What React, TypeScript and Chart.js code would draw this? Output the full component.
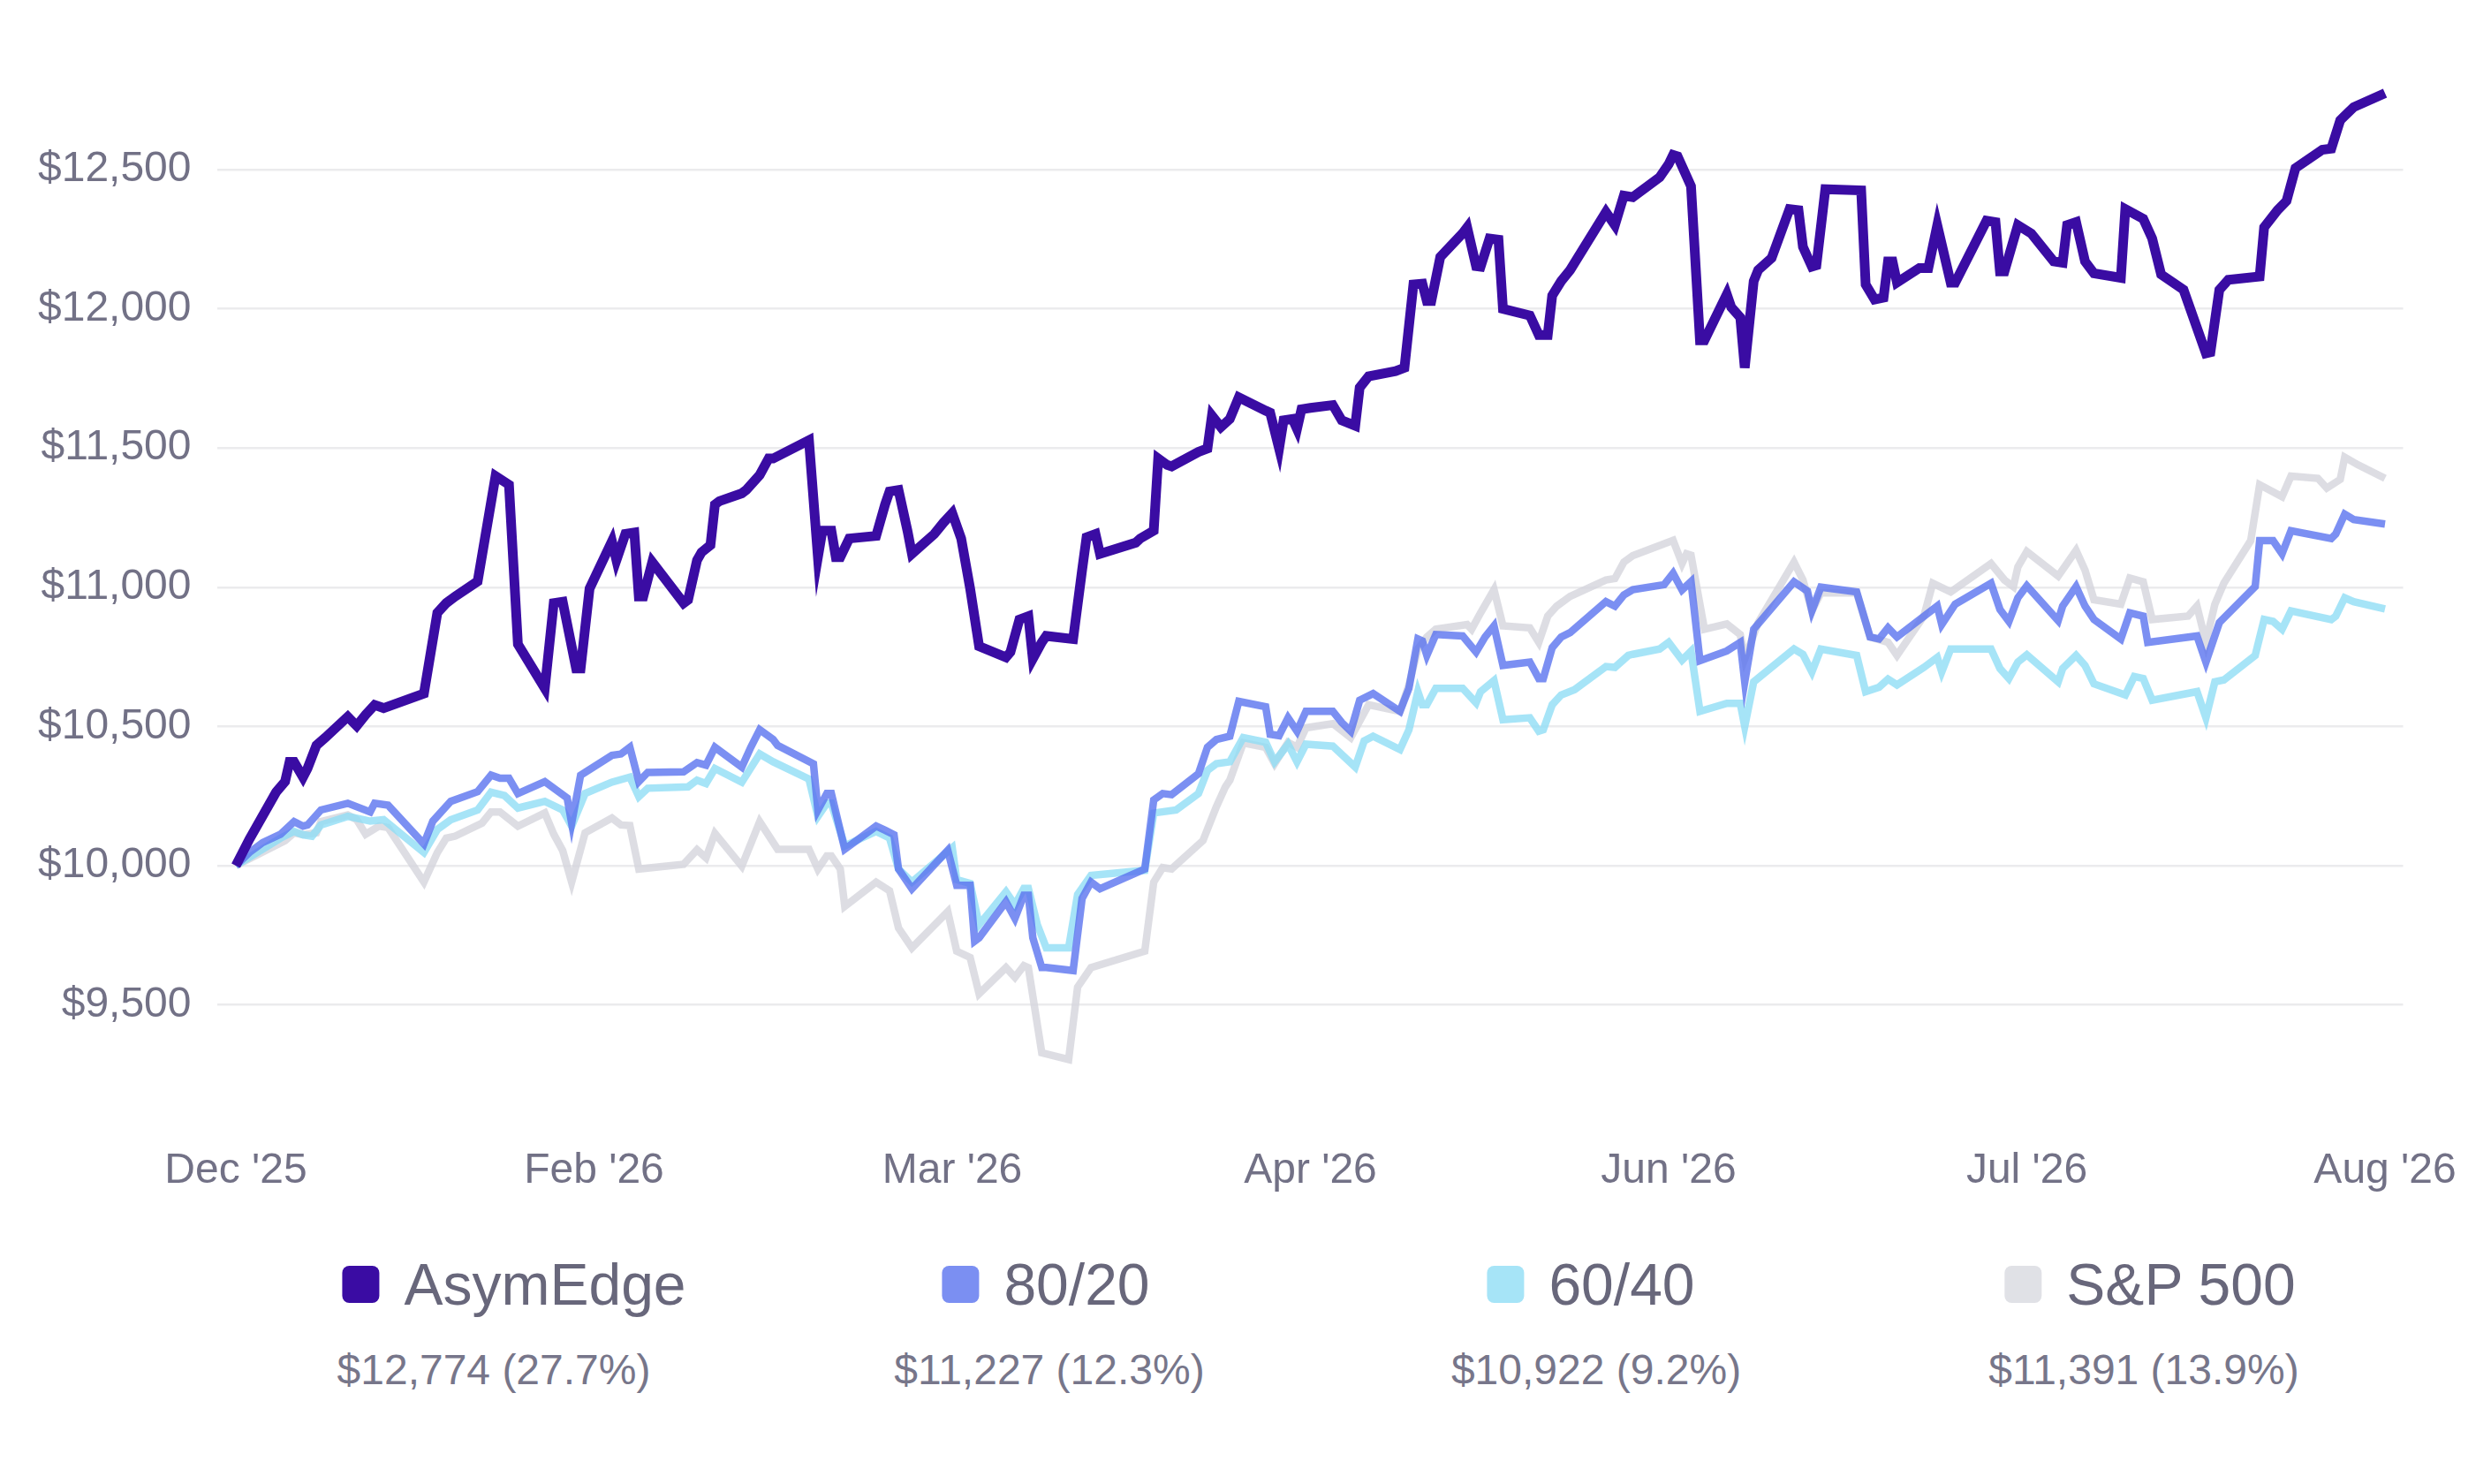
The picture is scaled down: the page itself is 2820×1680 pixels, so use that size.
import React, { useEffect, useRef } from 'react';
import { Chart, registerables } from 'chart.js';

Chart.register(...registerables);

const FONT = '"Liberation Sans", Arial, Helvetica, sans-serif';

// x axis: day index (0 .. 480) with month labels
const tickDays = [0, 80, 160, 240, 320, 400, 480];
const tickLabels = ["Dec '25", "Feb '26", "Mar '26", "Apr '26", "Jun '26", "Jul '26", "Aug '26"];
const yTicks = [9500, 10000, 10500, 11000, 11500, 12000, 12500];
const startValue = 10000;
const seriesNames = ['AsymEdge', '80/20', '60/40', 'S&P 500'];

const asymDays = [0, 3, 9, 11, 12, 13, 15, 16, 18, 20, 25, 27, 29, 31, 33, 42, 45, 47, 49, 54, 58, 61, 63, 69, 71, 73, 76, 77, 79, 84, 85, 87, 89, 90, 91, 93, 100, 101, 103, 104, 106, 107, 108, 113, 114, 117, 119, 120, 128, 130, 131, 133, 134, 135, 137, 143, 145, 146, 148, 150, 151, 156, 158, 160, 162, 164, 166, 172, 173, 175, 177, 178, 180, 181, 187, 189, 190, 192, 193, 201, 202, 205, 206, 208, 209, 215, 217, 218, 220, 222, 224, 230, 231, 233, 234, 236, 237, 238, 240, 245, 247, 250, 251, 253, 259, 261, 263, 265, 266, 267, 269, 274, 275, 277, 278, 280, 282, 283, 289, 291, 293, 294, 296, 298, 306, 308, 310, 312, 318, 320, 321, 322, 324, 325, 327, 328, 333, 334, 336, 337, 339, 340, 343, 347, 349, 350, 352, 353, 355, 363, 364, 366, 368, 369, 370, 371, 376, 378, 380, 383, 384, 391, 393, 394, 395, 398, 401, 406, 408, 409, 411, 413, 415, 421, 422, 426, 428, 430, 435, 440, 441, 443, 445, 452, 453, 456, 458, 460, 466, 468, 470, 471, 473, 480];
const asymValues = [10000, 10094, 10264, 10302, 10373, 10373, 10318, 10349, 10432, 10460, 10535, 10502, 10542, 10577, 10566, 10618, 10908, 10943, 10967, 11021, 11399, 11368, 10795, 10637, 10943, 10948, 10708, 10708, 10995, 11165, 11097, 11191, 11196, 10967, 10967, 11090, 10943, 10955, 11097, 11125, 11151, 11297, 11309, 11337, 11349, 11403, 11462, 11462, 11528, 11108, 11203, 11203, 11108, 11108, 11175, 11184, 11297, 11344, 11349, 11203, 11120, 11191, 11231, 11266, 11175, 10995, 10788, 10748, 10767, 10884, 10896, 10743, 10802, 10825, 10814, 11061, 11179, 11191, 11120, 11160, 11175, 11203, 11462, 11439, 11434, 11486, 11498, 11616, 11575, 11604, 11682, 11634, 11627, 11498, 11599, 11604, 11568, 11639, 11644, 11654, 11599, 11580, 11717, 11757, 11776, 11788, 12087, 12090, 12028, 12028, 12186, 12271, 12292, 12153, 12151, 12252, 12248, 12000, 11976, 11906, 11906, 12047, 12099, 12139, 12347, 12300, 12406, 12401, 12472, 12519, 12552, 12547, 12476, 12440, 11887, 11887, 12052, 12005, 11969, 11788, 12099, 12139, 12182, 12358, 12354, 12222, 12151, 12156, 12429, 12425, 12087, 12033, 12040, 12170, 12170, 12094, 12146, 12146, 12300, 12094, 12094, 12316, 12311, 12134, 12134, 12300, 12270, 12170, 12165, 12300, 12311, 12170, 12127, 12111, 12358, 12323, 12252, 12123, 12068, 11840, 11844, 12068, 12104, 12116, 12292, 12354, 12387, 12505, 12571, 12575, 12677, 12693, 12724, 12774];

const days8020 = [0, 3, 6, 10, 13, 15, 16, 19, 25, 30, 31, 34, 42, 44, 48, 54, 57, 59, 61, 63, 69, 74, 75, 77, 84, 86, 88, 90, 92, 100, 103, 105, 107, 113, 115, 117, 120, 121, 129, 130, 132, 133, 136, 143, 145, 147, 148, 151, 159, 161, 164, 165, 166, 172, 174, 176, 177, 178, 180, 181, 187, 189, 191, 193, 203, 205, 207, 209, 215, 217, 219, 222, 224, 230, 231, 233, 235, 237, 239, 245, 247, 249, 251, 254, 260, 262, 264, 265, 266, 268, 274, 277, 279, 281, 283, 289, 291, 292, 294, 296, 298, 306, 308, 310, 312, 319, 321, 323, 325, 327, 333, 336, 337, 339, 348, 351, 352, 354, 362, 365, 367, 369, 371, 380, 381, 384, 392, 394, 396, 398, 400, 407, 408, 411, 413, 415, 421, 423, 426, 427, 438, 440, 443, 451, 452, 455, 457, 459, 468, 469, 471, 473, 480];
const values8020 = [10000, 10047, 10083, 10113, 10158, 10142, 10146, 10200, 10224, 10193, 10224, 10217, 10078, 10160, 10231, 10266, 10325, 10314, 10314, 10259, 10302, 10243, 10153, 10325, 10396, 10401, 10425, 10302, 10335, 10337, 10370, 10361, 10425, 10354, 10425, 10488, 10453, 10432, 10366, 10200, 10259, 10259, 10059, 10142, 10127, 10111, 9988, 9917, 10055, 9929, 9929, 9729, 9741, 9870, 9811, 9894, 9894, 9741, 9634, 9634, 9623, 9882, 9941, 9917, 9988, 10236, 10259, 10255, 10330, 10425, 10453, 10465, 10590, 10571, 10472, 10467, 10531, 10483, 10554, 10554, 10514, 10483, 10594, 10618, 10554, 10637, 10814, 10807, 10755, 10830, 10825, 10767, 10821, 10861, 10719, 10731, 10672, 10672, 10783, 10821, 10837, 10948, 10932, 10972, 10991, 11009, 11050, 10990, 11020, 10736, 10771, 10802, 10660, 10849, 11019, 10986, 10915, 11000, 10983, 10821, 10814, 10854, 10821, 10932, 10866, 10939, 11014, 10920, 10877, 10962, 11005, 10880, 10932, 11002, 10932, 10884, 10814, 10908, 10896, 10802, 10825, 10731, 10873, 11002, 11167, 11167, 11120, 11203, 11175, 11191, 11262, 11243, 11227];

const days6040 = [0, 10, 13, 15, 17, 19, 25, 30, 33, 42, 45, 48, 54, 57, 60, 63, 69, 73, 75, 78, 84, 88, 90, 92, 101, 103, 105, 107, 113, 117, 120, 128, 130, 132, 133, 136, 143, 146, 148, 151, 160, 161, 164, 166, 172, 174, 176, 177, 179, 181, 186, 188, 191, 203, 205, 210, 215, 217, 219, 222, 225, 230, 232, 235, 237, 239, 245, 250, 252, 254, 260, 262, 264, 265, 266, 268, 274, 277, 278, 281, 283, 289, 291, 292, 294, 296, 299, 306, 308, 311, 312, 318, 320, 323, 325, 327, 333, 336, 337, 339, 348, 350, 352, 354, 362, 364, 367, 369, 371, 377, 380, 381, 383, 392, 394, 396, 398, 400, 407, 408, 411, 413, 415, 422, 424, 426, 428, 438, 440, 442, 444, 451, 453, 455, 457, 459, 468, 469, 471, 473, 480];
const values6040 = [10000, 10099, 10123, 10111, 10106, 10146, 10177, 10160, 10165, 10047, 10130, 10165, 10200, 10264, 10252, 10207, 10231, 10200, 10142, 10259, 10300, 10318, 10248, 10278, 10283, 10307, 10295, 10349, 10300, 10401, 10373, 10311, 10177, 10224, 10224, 10071, 10123, 10099, 9988, 9941, 10064, 9950, 9936, 9788, 9906, 9859, 9918, 9918, 9788, 9705, 9705, 9896, 9965, 9983, 10189, 10200, 10259, 10342, 10366, 10373, 10460, 10443, 10373, 10436, 10373, 10436, 10429, 10354, 10448, 10465, 10417, 10488, 10625, 10578, 10578, 10637, 10637, 10585, 10625, 10665, 10524, 10531, 10483, 10488, 10578, 10613, 10632, 10715, 10712, 10755, 10759, 10778, 10802, 10738, 10770, 10554, 10583, 10583, 10500, 10660, 10778, 10759, 10696, 10778, 10755, 10625, 10641, 10670, 10649, 10712, 10748, 10696, 10778, 10778, 10708, 10672, 10731, 10757, 10660, 10708, 10755, 10719, 10653, 10613, 10679, 10672, 10594, 10625, 10531, 10660, 10667, 10755, 10884, 10877, 10849, 10915, 10884, 10896, 10962, 10948, 10922];

const daysSp500 = [0, 11, 13, 15, 18, 19, 25, 27, 29, 32, 34, 42, 45, 47, 49, 55, 57, 59, 63, 69, 71, 73, 75, 78, 84, 86, 88, 90, 100, 103, 105, 107, 113, 117, 121, 128, 130, 132, 133, 135, 136, 143, 146, 148, 151, 159, 161, 164, 166, 172, 174, 176, 177, 180, 186, 188, 191, 203, 205, 207, 209, 216, 219, 221, 222, 225, 230, 232, 235, 237, 239, 245, 249, 253, 260, 262, 264, 266, 268, 275, 276, 278, 281, 283, 289, 291, 293, 295, 298, 306, 308, 310, 312, 321, 323, 324, 325, 328, 333, 336, 337, 340, 348, 350, 352, 354, 362, 365, 369, 371, 377, 379, 383, 392, 395, 397, 398, 400, 407, 411, 413, 415, 421, 423, 426, 428, 436, 438, 440, 442, 444, 450, 452, 457, 459, 465, 467, 470, 471, 474, 480];
const valuesSp500 = [10000, 10090, 10118, 10111, 10118, 10158, 10182, 10165, 10113, 10142, 10137, 9941, 10047, 10099, 10106, 10153, 10193, 10193, 10142, 10189, 10113, 10054, 9941, 10118, 10171, 10146, 10144, 9988, 10005, 10057, 10028, 10116, 9998, 10158, 10059, 10059, 9988, 10035, 10035, 9988, 9854, 9941, 9910, 9776, 9705, 9835, 9693, 9670, 9540, 9634, 9599, 9641, 9634, 9328, 9304, 9564, 9634, 9693, 9941, 9993, 9988, 10090, 10212, 10283, 10307, 10441, 10425, 10366, 10443, 10425, 10495, 10510, 10460, 10578, 10554, 10649, 10778, 10821, 10849, 10866, 10849, 10908, 10991, 10861, 10854, 10802, 10896, 10932, 10967, 11026, 11031, 11090, 11113, 11168, 11085, 11120, 11115, 10849, 10868, 10830, 10743, 10873, 11090, 11026, 10915, 10979, 10979, 10821, 10802, 10755, 10896, 11014, 10983, 11085, 11026, 11002, 11073, 11128, 11040, 11132, 11061, 10955, 10939, 11033, 11019, 10884, 10896, 10932, 10802, 10939, 11014, 11167, 11368, 11325, 11399, 11391, 11356, 11387, 11467, 11439, 11391];

const seriesDays = [asymDays, days8020, days6040, daysSp500];
const seriesValues = [asymValues, values8020, values6040, valuesSp500];
const lineColors = ['#3a0ca3', 'rgba(90,115,239,0.8)', 'rgba(144,221,245,0.8)', 'rgba(212,213,220,0.8)'];
const legendColors = ['#3a0ca3', '#7b8ff2', '#a6e4f7', '#e0e1e6'];
const lineWidths = [11, 8.5, 8.5, 8.5];

const TICK_COLOR = '#727186';

// legend placement (px inside the wrapper)
const legendNameX = [574, 1176, 1793, 2426];
const legendValueX = [551, 1180, 1799, 2419];

export default function App() {
  const canvasRef = useRef<HTMLCanvasElement | null>(null);

  useEffect(() => {
    const canvas = canvasRef.current;
    if (!canvas) return;
    Chart.defaults.font.family = FONT;
    const chart = new Chart(canvas, {
      type: 'line',
      data: {
        datasets: seriesNames.map((name, j) => ({
          label: name,
          data: seriesDays[j].map((d, k) => ({ x: d, y: seriesValues[j][k] })),
          borderColor: lineColors[j],
          backgroundColor: lineColors[j],
          borderWidth: lineWidths[j],
          pointRadius: 0,
          pointHoverRadius: 0,
          tension: 0,
          fill: false,
          borderJoinStyle: 'miter' as const,
        })),
      },
      options: {
        responsive: false,
        animation: false,
        devicePixelRatio: 1,
        layout: { padding: { top: 57.5, right: 91.5, left: 0, bottom: 7.7 } },
        plugins: { legend: { display: false }, tooltip: { enabled: false } },
        scales: {
          x: {
            type: 'linear',
            min: -4.24,
            max: 484.04,
            grid: { display: false },
            border: { display: false },
            afterBuildTicks: (axis: any) => {
              axis.ticks = tickDays.map((v) => ({ value: v }));
            },
            ticks: {
              autoSkip: false,
              maxRotation: 0,
              minRotation: 0,
              padding: 25.5,
              color: TICK_COLOR,
              font: { size: 48, family: FONT },
              callback: (value: any) => {
                const k = tickDays.indexOf(Number(value));
                return k >= 0 ? tickLabels[k] : '';
              },
            },
          },
          y: {
            type: 'linear',
            min: 9100,
            max: 12900,
            afterBuildTicks: (axis: any) => {
              axis.ticks = yTicks.map((v) => ({ value: v }));
            },
            afterFit: (axis: any) => {
              axis.width = 237.5;
            },
            grid: { color: '#ebebed', lineWidth: 2.5, drawTicks: false },
            border: { display: false },
            ticks: {
              padding: 29,
              color: TICK_COLOR,
              font: { size: 48, family: FONT },
              callback: (value: any) => '$' + Number(value).toLocaleString('en-US'),
            },
          },
        },
      },
    });
    return () => chart.destroy();
  }, []);

  return (
    <div style={{ position: 'relative', width: 2804, height: 1660, fontFamily: FONT, background: '#ffffff' }}>
      <canvas
        ref={canvasRef}
        width={2804}
        height={1380}
        style={{ position: 'absolute', left: 0, top: 0, width: 2804, height: 1380 }}
      />
      {seriesNames.map((name, j) => {
        const vals = seriesValues[j];
        const last = vals[vals.length - 1];
        const pct = (((last - startValue) / startValue) * 100).toFixed(1);
        return (
          <React.Fragment key={name}>
            <div
              style={{
                position: 'absolute',
                left: legendNameX[j],
                top: 1446,
                transform: 'translate(-50%, -50%)',
                display: 'flex',
                alignItems: 'center',
                whiteSpace: 'nowrap',
              }}
            >
              <span
                style={{
                  display: 'inline-block',
                  width: 42,
                  height: 42,
                  borderRadius: 8,
                  background: legendColors[j],
                  marginRight: 28,
                }}
              />
              <span style={{ fontSize: 66, lineHeight: 1, color: '#68677b' }}>{name}</span>
            </div>
            <div
              style={{
                position: 'absolute',
                left: legendValueX[j],
                top: 1543,
                transform: 'translate(-50%, -50%)',
                fontSize: 48,
                lineHeight: 1,
                color: '#77768a',
                whiteSpace: 'nowrap',
              }}
            >
              {'$' + last.toLocaleString('en-US') + ' (' + pct + '%)'}
            </div>
          </React.Fragment>
        );
      })}
    </div>
  );
}
